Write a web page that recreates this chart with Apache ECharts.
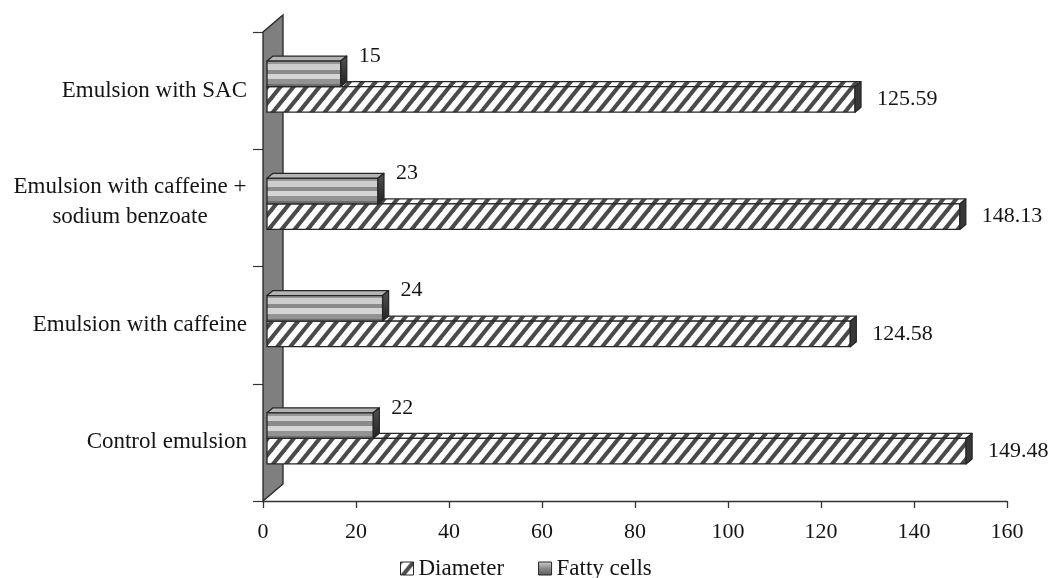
<!DOCTYPE html>
<html>
<head>
<meta charset="utf-8">
<script src="https://cdn.jsdelivr.net/npm/echarts@6/dist/echarts.min.js"></script>
<style>
html,body{margin:0;padding:0;background:#fff;}
#chart{width:1051px;height:578px;}
</style>
</head>
<body>
<div id="chart"></div>
<script>
// ---- data ----
const categories = ['Control emulsion', 'Emulsion with caffeine', 'Emulsion with caffeine +\nsodium benzoate', 'Emulsion with SAC'];
const diameter = [149.48, 124.58, 148.13, 125.59];
const fattyCells = [22, 24, 23, 15];
const xMin = 0, xMax = 160, xInterval = 20;
const seriesNames = ['Diameter', 'Fatty cells'];

// ---- styles ----
const FONT = '"Liberation Serif", "Times New Roman", serif';
const INK = '#141414';
const EDGE = '#262626';

function makeDiagPattern() {
  const w = 13, h = 16;
  const c = document.createElement('canvas');
  c.width = w; c.height = h;
  const g = c.getContext('2d');
  g.fillStyle = '#ffffff';
  g.fillRect(0, 0, w, h);
  g.strokeStyle = '#4a4a4a';
  g.lineWidth = 4.1;
  for (let k = -1; k <= 1; k++) {
    g.beginPath();
    g.moveTo(k * w - 0.5 * w, 1.5 * h);
    g.lineTo((k + 1) * w + 0.5 * w, -0.5 * h);
    g.stroke();
  }
  return c;
}
const diagPattern = { image: makeDiagPattern(), repeat: 'repeat' };

function hardStops(bands) {
  const stops = [];
  bands.forEach(b => {
    stops.push({ offset: b[0], color: b[2] });
    stops.push({ offset: b[1], color: b[2] });
  });
  return stops;
}
const fattyFront = {
  type: 'linear', x: 0, y: 0, x2: 0, y2: 1, global: false,
  colorStops: hardStops([
    [0, 0.13, '#979797'],
    [0.13, 0.34, '#cdcdcd'],
    [0.34, 0.5, '#8a8a8a'],
    [0.5, 0.7, '#d4d4d4'],
    [0.7, 0.88, '#939393'],
    [0.88, 1, '#6e6e6e']
  ])
};
const fattyTop = '#b4b4b4';
const fattySide = {
  type: 'linear', x: 0, y: 0, x2: 0, y2: 1, global: false,
  colorStops: [{ offset: 0, color: '#555' }, { offset: 0.5, color: '#3a3a3a' }, { offset: 1, color: '#222' }]
};
const diamSide = '#383838';
const legendFatty = {
  type: 'linear', x: 0, y: 0, x2: 0, y2: 1, global: false,
  colorStops: [{ offset: 0, color: '#d0d0d0' }, { offset: 0.5, color: '#8a8a8a' }, { offset: 1, color: '#5a5a5a' }]
};

// 3D look parameters (pixels)
const DX = 6, DY = -5, START_OFF = 4, END_OFF = 8;
const BAR_FRAC = 0.218, PAIR_SHIFT = -4;
const WALL_DX = 20, WALL_DY = -17;

function poly(points, fill, z2) {
  return { type: 'polygon', z2: z2 || 0, shape: { points: points },
    style: { fill: fill, stroke: EDGE, lineWidth: 1.3, lineJoin: 'round' } };
}

function makeBarRenderer(kind) {
  return function (params, api) {
    const v = api.value(0), ci = api.value(1);
    const pEnd = api.coord([v, ci]);
    const p0 = api.coord([0, ci]);
    const band = api.size([0, 1])[1];
    const h = band * BAR_FRAC;
    const c = pEnd[1] + PAIR_SHIFT;
    const yTop = kind === 'fatty' ? c - h : c;
    const yBot = kind === 'fatty' ? c : c + h;
    const x0 = p0[0] + START_OFF;
    const xe = pEnd[0] + END_OFF;
    const front = kind === 'fatty' ? fattyFront : diagPattern;
    const top = kind === 'fatty' ? fattyTop : diagPattern;
    const side = kind === 'fatty' ? fattySide : diamSide;
    const children = [
      poly([[x0, yTop], [x0 + DX, yTop + DY], [xe + DX, yTop + DY], [xe, yTop]], top, 1),
      poly([[x0, yTop], [xe, yTop], [xe, yBot], [x0, yBot]], front, 2),
      poly([[xe, yTop], [xe + DX, yTop + DY], [xe + DX, yBot + DY], [xe, yBot]], side, 3)
    ];
    const lx = kind === 'fatty' ? xe + DX + 12 : xe + DX + 16;
    const ly = kind === 'fatty' ? yTop - 5 : (yTop + yBot) / 2;
    children.push({
      type: 'text', z2: 5, x: lx, y: ly,
      style: { text: String(v), fontSize: 22, fontFamily: FONT, fill: INK,
        align: 'left', verticalAlign: 'middle', textAlign: 'left', textVerticalAlign: 'middle' }
    });
    return { type: 'group', children: children };
  };
}

function renderWall(params, api) {
  const cs = params.coordSys;
  const x = cs.x, y = cs.y, hgt = cs.height;
  return {
    type: 'polygon',
    shape: { points: [[x, y], [x + WALL_DX, y + WALL_DY], [x + WALL_DX, y + hgt + WALL_DY], [x, y + hgt]] },
    style: { fill: '#7f7f7f', stroke: EDGE, lineWidth: 1.3 }
  };
}

const chart = echarts.init(document.getElementById('chart'), null, { renderer: 'canvas' });
chart.setOption({
  animation: false,
  backgroundColor: '#ffffff',
  textStyle: { fontFamily: FONT },
  grid: { left: 263, right: 44, top: 32, bottom: 77, containLabel: false },
  xAxis: {
    type: 'value', min: xMin, max: xMax, interval: xInterval,
    splitLine: { show: false },
    axisLine: { show: true, lineStyle: { color: '#333', width: 1.4 } },
    axisTick: { show: true, length: 7, lineStyle: { color: '#333', width: 1.3 } },
    axisLabel: { color: INK, fontSize: 22, fontFamily: FONT, margin: 20 }
  },
  yAxis: {
    type: 'category', data: categories,
    axisLine: { show: true, lineStyle: { color: '#333' } },
    axisTick: { show: true, length: 10, lineStyle: { color: '#333', width: 1.2 } },
    axisLabel: {
      color: INK, fontSize: 23, fontFamily: FONT, margin: 16, lineHeight: 29,
      formatter: function (val) {
        if (val.indexOf('\n') >= 0) {
          return val.split('\n').map(s => '{m|' + s + '}').join('\n') + '\n{s| }';
        }
        return val;
      },
      rich: {
        m: { width: 234, align: 'center', fontSize: 23, fontFamily: FONT, color: INK, lineHeight: 30 },
        s: { fontSize: 4, lineHeight: 12 }
      }
    }
  },
  legend: {
    left: 400, top: 557, padding: 0, itemGap: 34, itemWidth: 13, itemHeight: 13,
    icon: 'rect',
    textStyle: { fontSize: 23, fontFamily: FONT, color: INK },
    data: [
      { name: seriesNames[0], itemStyle: { color: diagPattern, borderColor: EDGE, borderWidth: 1 } },
      { name: seriesNames[1], itemStyle: { color: legendFatty, borderColor: EDGE, borderWidth: 1 } }
    ]
  },
  series: [
    { type: 'custom', name: 'wall', silent: true, clip: false, z: 1,
      renderItem: renderWall, data: [[0, 0]], encode: { x: 0, y: 1 } },
    { type: 'custom', name: seriesNames[0], clip: false, z: 2,
      itemStyle: { color: diagPattern },
      renderItem: makeBarRenderer('diam'),
      data: diameter.map((v, i) => [v, i]), encode: { x: 0, y: 1 } },
    { type: 'custom', name: seriesNames[1], clip: false, z: 3,
      itemStyle: { color: legendFatty },
      renderItem: makeBarRenderer('fatty'),
      data: fattyCells.map((v, i) => [v, i]), encode: { x: 0, y: 1 } }
  ]
});
</script>
</body>
</html>
